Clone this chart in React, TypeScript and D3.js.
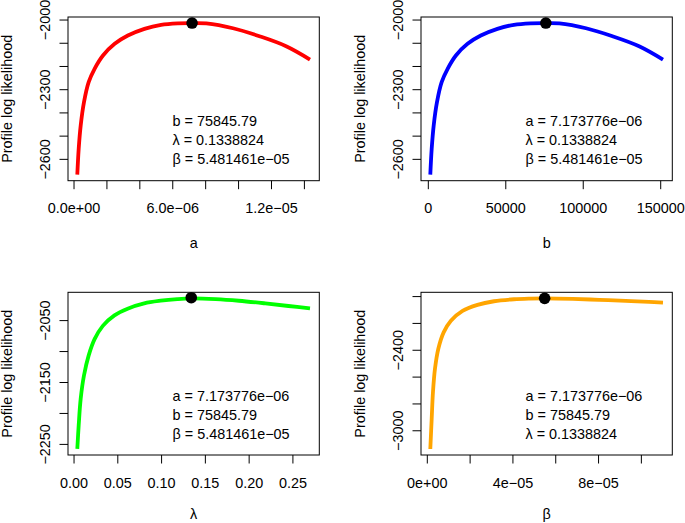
import React from "react";
import * as d3 from "d3";

const MINUS = "\u2212";

// Panel a
const aValues = [2.0e-7, 2.85e-7, 4.06e-7, 6.06e-7, 8.9e-7, 1.25e-6, 1.76e-6, 2.47e-6, 3.27e-6, 4.28e-6, 5.29e-6, 6.3e-6, 7.173776e-6, 8.04e-6, 9.66e-6, 1.127e-5, 1.289e-5, 1.434e-5];
const aLogLik = [-2665.8, -2554, -2453.8, -2353.5, -2267.5, -2210, -2152.7, -2102.4, -2066.7, -2037.8, -2020.6, -2014, -2013, -2014.5, -2035.3, -2069.7, -2112.7, -2170];
const aTicks = [0, 2e-6, 4e-6, 6e-6, 8e-6, 1e-5, 1.2e-5, 1.4e-5];
const aTickLabels = ["0.0e+00", "", "", `6.0e${MINUS}06`, "", "", `1.2e${MINUS}05`, ""];

// Panel b
const bValues = [1285, 2185, 3470, 5590, 8610, 12470, 17800, 25320, 33870, 44600, 55270, 66000, 75845.79, 84640, 101800, 118900, 136050, 151470];
const bLogLik = [-2665.8, -2554, -2453.8, -2353.5, -2267.5, -2210, -2152.7, -2102.4, -2066.7, -2037.8, -2020.6, -2014, -2013, -2014.5, -2035.3, -2069.7, -2112.7, -2170];
const bTicks = [0, 50000, 100000, 150000];
const bTickLabels = ["0", "50000", "100000", "150000"];

// Panel lambda
const lambdaValues = [0.00374, 0.00533, 0.0076, 0.01134, 0.01667, 0.02347, 0.03288, 0.04615, 0.06122, 0.08016, 0.09898, 0.1179, 0.1338824, 0.1618, 0.1882, 0.2185, 0.2449, 0.2695];
const lambdaLogLik = [-2257.4, -2218.9, -2176.3, -2138.7, -2106.6, -2080, -2058.5, -2041.5, -2030.7, -2022.2, -2017.9, -2015.2, -2014, -2015.2, -2017.9, -2022.2, -2026.4, -2030.3];
const lambdaTicks = [0, 0.05, 0.1, 0.15, 0.2, 0.25];
const lambdaTickLabels = ["0.00", "0.05", "0.10", "0.15", "0.20", "0.25"];

// Panel beta
const betaValues = [1.4e-6, 2.05e-6, 2.65e-6, 3.58e-6, 5.12e-6, 7.63e-6, 1.102e-5, 1.646e-5, 2.344e-5, 3.116e-5, 4.046e-5, 4.823e-5, 5.481461e-5, 6.79e-5, 8.03e-5, 9.27e-5, 1.036e-4, 1.101e-4];
const betaLogLik = [-3135.6, -2908.9, -2711, -2538.5, -2390.4, -2266.7, -2180, -2105.9, -2061.5, -2034.8, -2020, -2014.8, -2013, -2017, -2024.5, -2032, -2039.3, -2044.4];
const betaTicks = [0, 2e-5, 4e-5, 6e-5, 8e-5, 1e-4];
const betaTickLabels = ["0e+00", "", `4e${MINUS}05`, "", `8e${MINUS}05`, ""];

// Estimates
const aHat = 7.173776e-6;
const bHat = 75845.79;
const lambdaHat = 0.1338824;
const betaHat = 5.481461e-5;
const maxLogLik = -2013;

// Y ticks
const yTicksTop = [-2600, -2500, -2400, -2300, -2200, -2100, -2000];
const yTickLabelsTop = [`${MINUS}2600`, "", "", `${MINUS}2300`, "", "", `${MINUS}2000`];
const yTicksLambda = [-2250, -2200, -2150, -2100, -2050];
const yTickLabelsLambda = [`${MINUS}2250`, "", `${MINUS}2150`, "", `${MINUS}2050`];
const yTicksBeta = [-3000, -2800, -2600, -2400, -2200, -2000];
const yTickLabelsBeta = [`${MINUS}3000`, "", "", `${MINUS}2400`, "", ""];

const noteA = `a = 7.173776e${MINUS}06`;
const noteB = "b = 75845.79";
const noteL = "\u03bb = 0.1338824";
const noteBeta = `\u03b2 = 5.481461e${MINUS}05`;

const FONT = "'Liberation Sans', Arial, Helvetica, sans-serif";

type PanelProps = {
  x0: number; y0: number; w: number; h: number;
  xs: number[]; ys: number[]; color: string;
  hatX: number; hatY: number;
  xTicks: number[]; xTickLabels: string[];
  yTicks: number[]; yTickLabels: string[];
  xTitle: string; xTitleOffset: number; notes: string[];
};

function Panel(p: PanelProps) {
  const { x0, y0, w, h, xs, ys } = p;
  const xe = d3.extent(xs) as [number, number];
  const ye = d3.extent(ys) as [number, number];
  const px = (xe[1] - xe[0]) * 0.04;
  const py = (ye[1] - ye[0]) * 0.04;
  const x = d3.scaleLinear().domain([xe[0] - px, xe[1] + px]).range([x0, x0 + w]);
  const y = d3.scaleLinear().domain([ye[0] - py, ye[1] + py]).range([y0 + h, y0]);
  const idx = d3.range(xs.length);
  const line = d3.line<number>().x((i) => x(xs[i])).y((i) => y(ys[i])).curve(d3.curveCatmullRom.alpha(0.5));
  const tl = 8.5;
  return (
    <g>
      <path d={line(idx) || ""} fill="none" stroke={p.color} strokeWidth={3.8} strokeLinecap="butt" strokeLinejoin="round" />
      <circle cx={x(p.hatX)} cy={y(p.hatY)} r={5.8} fill="#000" />
      <rect x={x0} y={y0} width={w} height={h} fill="none" stroke="#000" strokeWidth={1} />
      {p.xTicks.map((v, i) => (
        <g key={"xt" + i}>
          <line x1={x(v)} x2={x(v)} y1={y0 + h} y2={y0 + h + tl} stroke="#000" strokeWidth={1} />
          {p.xTickLabels[i] ? (
            <text x={x(v)} y={y0 + h + 32.6} textAnchor="middle" fontSize={14.4} fontFamily={FONT}>{p.xTickLabels[i]}</text>
          ) : null}
        </g>
      ))}
      {p.yTicks.map((v, i) => (
        <g key={"yt" + i}>
          <line x1={x0 - tl} x2={x0} y1={y(v)} y2={y(v)} stroke="#000" strokeWidth={1} />
          {p.yTickLabels[i] ? (
            <text transform={`translate(${x0 - 18},${y(v)}) rotate(-90)`} textAnchor="middle" fontSize={14.4} fontFamily={FONT}>{p.yTickLabels[i]}</text>
          ) : null}
        </g>
      ))}
      <text transform={`translate(${x0 - 56},${y0 + h / 2}) rotate(-90)`} textAnchor="middle" fontSize={14.4} fontFamily={FONT}>Profile log likelihood</text>
      <text x={x0 + w / 2} y={y0 + h + p.xTitleOffset} textAnchor="middle" fontSize={14.4} fontFamily={FONT}>{p.xTitle}</text>
      {p.notes.map((t, i) => (
        <text key={"n" + i} x={x0 + 104.5} y={y0 + 108.5 + i * 19.3} fontSize={14.4} fontFamily={FONT}>{t}</text>
      ))}
    </g>
  );
}

export default function App() {
  return (
    <svg width={685} height={523} style={{ position: "absolute", left: 0, top: 0, background: "#fff" }}>
      <rect x={0} y={0} width={685} height={523} fill="#fff" />
      <Panel x0={68} y0={17} w={251.3} h={163.7} xs={aValues} ys={aLogLik} color="#FF0000"
        hatX={aHat} hatY={maxLogLik} xTicks={aTicks} xTickLabels={aTickLabels}
        yTicks={yTicksTop} yTickLabels={yTickLabelsTop} xTitle="a" xTitleOffset={67.5} notes={[noteB, noteL, noteBeta]} />
      <Panel x0={421} y0={17} w={251.3} h={163.7} xs={bValues} ys={bLogLik} color="#0000FF"
        hatX={bHat} hatY={maxLogLik} xTicks={bTicks} xTickLabels={bTickLabels}
        yTicks={yTicksTop} yTickLabels={yTickLabelsTop} xTitle="b" xTitleOffset={67.5} notes={[noteA, noteL, noteBeta]} />
      <Panel x0={68} y0={292.3} w={251.3} h={162.7} xs={lambdaValues} ys={lambdaLogLik} color="#00FF00"
        hatX={lambdaHat} hatY={maxLogLik} xTicks={lambdaTicks} xTickLabels={lambdaTickLabels}
        yTicks={yTicksLambda} yTickLabels={yTickLabelsLambda} xTitle={"\u03bb"} xTitleOffset={63.5} notes={[noteA, noteB, noteBeta]} />
      <Panel x0={421} y0={292.3} w={251.3} h={162.7} xs={betaValues} ys={betaLogLik} color="#FFA500"
        hatX={betaHat} hatY={maxLogLik} xTicks={betaTicks} xTickLabels={betaTickLabels}
        yTicks={yTicksBeta} yTickLabels={yTickLabelsBeta} xTitle={"\u03b2"} xTitleOffset={63.5} notes={[noteA, noteB, noteL]} />
    </svg>
  );
}
